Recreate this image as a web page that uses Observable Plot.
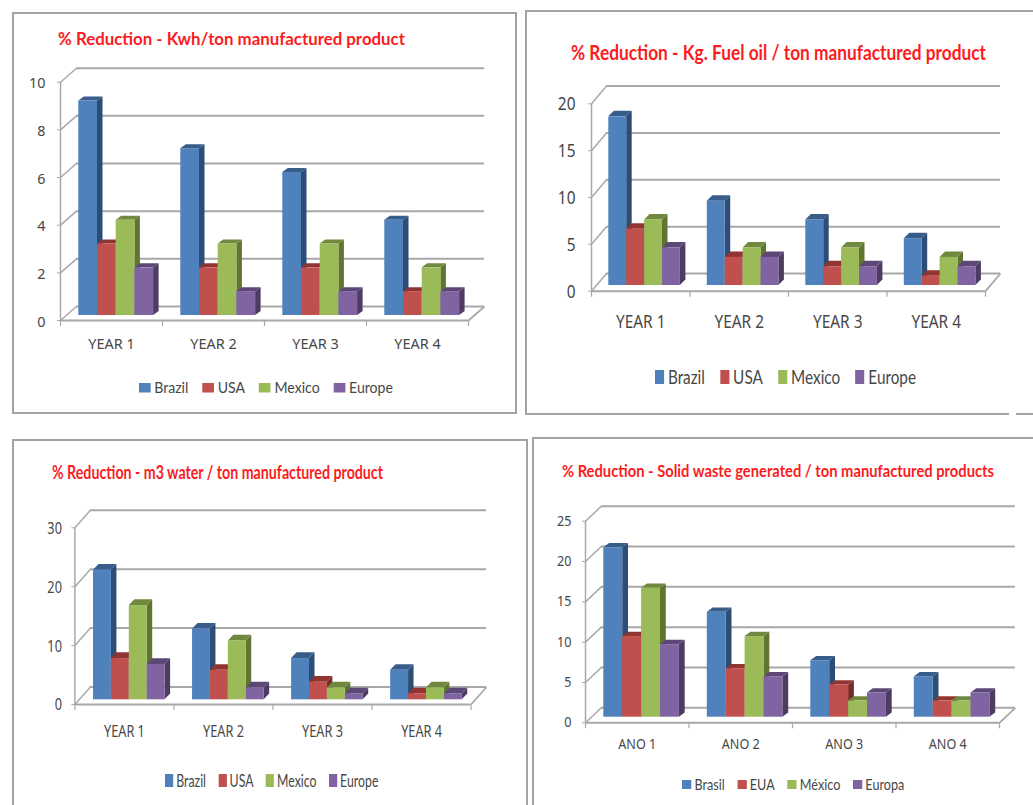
<!DOCTYPE html>
<html>
<head>
<meta charset="utf-8">
<script src="https://cdn.jsdelivr.net/npm/d3@7"></script>
<script src="https://cdn.jsdelivr.net/npm/@observablehq/plot@0.6"></script>
<style>
  html, body { margin: 0; background: #fff; }
  body { position: relative; width: 1033px; height: 805px; overflow: hidden; font-family: Lato, sans-serif; }
  .box { position: absolute; border: 2px solid #a3a3a3; box-sizing: border-box; }
  .chart { position: absolute; left: 0; top: 0; overflow: visible; }
  .title, .legend { position: absolute; white-space: nowrap; transform-origin: 0 50%; }
  .title { font-weight: 700; color: #fb1c22; line-height: 1; }
  .legend > div { flex-wrap: nowrap !important; margin: 0 !important; min-height: 0 !important; }
  .legend svg { margin-right: 0.25em !important; }
</style>
</head>
<body>
<script>
// Categories and series labels
const yearLabels = ["YEAR 1", "YEAR 2", "YEAR 3", "YEAR 4"];
const anoLabels = ["ANO 1", "ANO 2", "ANO 3", "ANO 4"];
const regionNames = ["Brazil", "USA", "Mexico", "Europe"];
const regiaoNames = ["Brasil", "EUA", "México", "Europa"];

// % reduction, Kwh per ton
const kwhBrazil = [9, 7, 6, 4];
const kwhUsa = [3, 2, 2, 1];
const kwhMexico = [4, 3, 3, 2];
const kwhEurope = [2, 1, 1, 1];

// % reduction, kg of fuel oil per ton
const fuelBrazil = [18, 9, 7, 5];
const fuelUsa = [6, 3, 2, 1];
const fuelMexico = [7, 4, 4, 3];
const fuelEurope = [4, 3, 2, 2];

// % reduction, m3 of water per ton
const waterBrazil = [22, 12, 7, 5];
const waterUsa = [7, 5, 3, 1];
const waterMexico = [16, 10, 2, 2];
const waterEurope = [6, 2, 1, 1];

// % reduction, solid waste per ton
const wasteBrasil = [21, 13, 7, 5];
const wasteEua = [10, 6, 4, 2];
const wasteMexico = [16, 10, 2, 2];
const wasteEuropa = [9, 5, 3, 3];

// Axis ticks
const kwhTicks = [0, 2, 4, 6, 8, 10];
const fuelTicks = [0, 5, 10, 15, 20];
const waterTicks = [0, 10, 20, 30];
const wasteTicks = [0, 5, 10, 15, 20, 25];

// Face colours per series: front, side, top
const frontColors = ["#4f81bd", "#c0504d", "#9bbb59", "#8064a2"];
const sideColors = ["#2c4d75", "#772c2a", "#5f7530", "#4d3b62"];
const topColors = ["#385d8a", "#923532", "#71893f", "#5c4776"];

const gridColor = "#a8a8a8";
const inkColor = "#474747";

// One chart per panel; every length below is in page pixels
const panels = [
  {
    title: "% Reduction - Kwh/ton manufactured product",
    groups: yearLabels, names: regionNames,
    series: [kwhBrazil, kwhUsa, kwhMexico, kwhEurope], ticks: kwhTicks,
    box: [12, 12, 517, 414],
    plot: { x0: 60, x1: 468, y0: 320, y1: 81.7 },
    wall: { dx: 16, dy: -14 },
    bar: { offset: 18.3, width: 18.7, lift: 5, dx: 5.5, dy: 4 },
    titleAt: { left: 57.5, cy: 39, width: 347, size: 16.5 },
    text: { size: 14.4, squeeze: 1, tickPad: 15, labelDy: 24, tickDy: 1.5 },
    legend: { left: 139, right: 393, cy: 387.5, size: 14.5, sw: 12, sh: 9.5 },
  },
  {
    title: "% Reduction - Kg. Fuel oil / ton manufactured product",
    groups: yearLabels, names: regionNames,
    series: [fuelBrazil, fuelUsa, fuelMexico, fuelEurope], ticks: fuelTicks,
    box: [525, 10, 1040, 414.5],
    plot: { x0: 591, x1: 985, y0: 290.7, y1: 103.3 },
    wall: { dx: 15, dy: -17.7 },
    bar: { offset: 17.3, width: 17.9, lift: 5.7, dx: 5.5, dy: 5.5 },
    titleAt: { left: 571, cy: 52, width: 415, size: 20 },
    text: { size: 17.5, squeeze: 0.88, tickPad: 16, labelDy: 31, tickDy: 1 },
    legend: { left: 655, right: 916, cy: 376.5, size: 18.5, sw: 11, sh: 14 },
  },
  {
    title: "% Reduction - m3 water / ton manufactured product",
    groups: yearLabels, names: regionNames,
    series: [waterBrazil, waterUsa, waterMexico, waterEurope], ticks: waterTicks,
    box: [12, 439, 528, 820],
    plot: { x0: 74.4, x1: 470.6, y0: 704, y1: 527.3 },
    wall: { dx: 15.5, dy: -17.5 },
    bar: { offset: 18.6, width: 17.9, lift: 4.7, dx: 5.5, dy: 5.7 },
    titleAt: { left: 52, cy: 471.5, width: 331, size: 18 },
    text: { size: 15.5, squeeze: 0.82, tickPad: 13, labelDy: 28, tickDy: 1 },
    legend: { left: 164.6, right: 378, cy: 780.5, size: 16.5, sw: 11, sh: 13 },
  },
  {
    title: "% Reduction - Solid waste generated / ton manufactured products",
    groups: anoLabels, names: regiaoNames,
    series: [wasteBrasil, wasteEua, wasteMexico, wasteEuropa], ticks: wasteTicks,
    box: [532, 437, 1040, 820],
    plot: { x0: 585, x1: 999, y0: 722.3, y1: 520.7 },
    wall: { dx: 15.8, dy: -15 },
    bar: { offset: 18.3, width: 18.9, lift: 5.6, dx: 5.8, dy: 4.3 },
    titleAt: { left: 562, cy: 470.5, width: 432, size: 17 },
    text: { size: 14, squeeze: 0.9, tickPad: 14, labelDy: 22, tickDy: 0 },
    legend: { left: 681.7, right: 904, cy: 784, size: 15, sw: 11, sh: 9 },
  }
];

// Per-series marks: side face, top face and front face of every column
function columnMarks(panel, ux, uy) {
  const { bar } = panel;
  const sideUnits = bar.dx / ux;
  const topUnits = bar.dy / uy;
  return panel.series.flatMap((values, s) => {
    const cols = values.map((value, g) => {
      const xl = g + (bar.offset + s * bar.width) / ux;
      return { id: g, value, xl, xr: xl + bar.width / ux };
    });
    const sideRows = cols.flatMap((c) => [
      { id: c.id, x: c.xr, low: 0, high: c.value },
      { id: c.id, x: c.xr + sideUnits, low: topUnits, high: c.value + topUnits }
    ]);
    const topRows = cols.flatMap((c) => [
      { id: c.id, y: c.value, a: c.xl, b: c.xr },
      { id: c.id, y: c.value + topUnits, a: c.xl + sideUnits, b: c.xr + sideUnits }
    ]);
    return [
      Plot.area(sideRows, { x1: "x", y1: "low", y2: "high", z: "id", fill: sideColors[s], dy: -bar.lift }),
      Plot.area(topRows, { x1: "a", x2: "b", y1: "y", z: "id", fill: topColors[s], dy: -bar.lift }),
      Plot.rect(cols, { x1: "xl", x2: "xr", y1: () => 0, y2: "value", fill: frontColors[s], dy: -bar.lift })
    ];
  });
}

function drawPanel(panel) {
  const [left, top, right, bottom] = panel.box;
  const { plot: p, wall, text } = panel;
  const ticks = panel.ticks;
  const maxTick = d3.max(ticks);
  const groupCount = panel.groups.length;
  const ux = (p.x1 - p.x0) / groupCount;
  const uy = (p.y0 - p.y1) / maxTick;
  const wallX = wall.dx / ux;
  const wallY = -wall.dy / uy;

  const frame = document.createElement("div");
  frame.className = "box";
  Object.assign(frame.style, {
    left: left + "px", top: top + "px",
    width: right - left + "px", height: bottom - top + "px"
  });
  document.body.append(frame);

  const line = { stroke: gridColor, strokeWidth: 2 };
  const svg = Plot.plot({
    width: right - left,
    height: bottom - top,
    marginLeft: p.x0 - left,
    marginRight: right - p.x1,
    marginTop: p.y1 - top,
    marginBottom: bottom - p.y0,
    className: "chart",
    style: { background: "none", overflow: "visible" },
    x: { domain: [0, groupCount] },
    y: { domain: [0, maxTick] },
    marks: [
      // Back wall grid, side wall and floor edges
      Plot.ruleY(ticks, { x1: 0, x2: groupCount, dx: wall.dx, dy: wall.dy, ...line }),
      Plot.link(ticks, { x1: 0, y1: (d) => d, x2: wallX, y2: (d) => d + wallY, stroke: gridColor, strokeWidth: 1.5 }),
      Plot.link([0], { x1: groupCount, y1: 0, x2: groupCount + wallX, y2: wallY, stroke: gridColor, strokeWidth: 1.8 }),
      Plot.ruleX([0], { y1: 0, y2: maxTick, stroke: gridColor, strokeWidth: 1.5 }),
      Plot.ruleY([0], { x1: 0, x2: groupCount, ...line }),
      // Tick marks, value labels and category labels
      Plot.axisY({
        ticks, anchor: "left", tickSize: 3, text: null, stroke: gridColor, label: null
      }),
      Plot.axisY({
        ticks, anchor: "left", tickSize: 0, tickPadding: text.tickPad, dy: text.tickDy,
        fill: inkColor, fontSize: text.size, label: null
      }),
      Plot.axisX({
        ticks: d3.range(groupCount + 1), anchor: "bottom", tickSize: 6,
        text: null, stroke: gridColor, strokeWidth: 1.2, label: null
      }),
      Plot.text(panel.groups, {
        x: (d, i) => i + 0.5, y: () => 0, dy: text.labelDy,
        fill: inkColor, fontSize: text.size
      }),
      ...columnMarks(panel, ux, uy)
    ]
  });
  svg.style.left = left + "px";
  svg.style.top = top + "px";
  svg.style.position = "absolute";
  document.body.append(svg);

  // Narrow the labels to the condensed widths of this chart
  svg.querySelectorAll("text").forEach((t) => {
    t.setAttribute("lengthAdjust", "spacingAndGlyphs");
    t.setAttribute("textLength", t.getComputedTextLength() * text.squeeze);
  });

  // Heading, fitted to its column
  const heading = document.createElement("div");
  heading.className = "title";
  heading.textContent = panel.title;
  heading.style.fontSize = panel.titleAt.size + "px";
  heading.style.left = panel.titleAt.left + "px";
  document.body.append(heading);
  const headingBox = heading.getBoundingClientRect();
  heading.style.top = panel.titleAt.cy - headingBox.height / 2 + "px";
  heading.style.transform = `scaleX(${panel.titleAt.width / headingBox.width})`;

  // Swatch legend below the chart, fitted between its two ends
  const { legend } = panel;
  const holder = document.createElement("div");
  holder.className = "legend";
  holder.style.left = legend.left + "px";
  holder.append(Plot.legend({
    color: { type: "ordinal", domain: panel.names, range: frontColors },
    legend: "swatches",
    swatchWidth: legend.sw,
    swatchHeight: legend.sh,
    style: { fontFamily: "Lato, sans-serif", fontSize: legend.size + "px", color: inkColor, marginRight: 0 }
  }));
  document.body.append(holder);
  const entries = [...holder.firstChild.children].filter((e) => e.tagName === "SPAN");
  const entryLeft = entries[0].getBoundingClientRect().left;
  const entryRight = entries[entries.length - 1].getBoundingClientRect().right;
  const holderBox = holder.getBoundingClientRect();
  holder.style.top = legend.cy - holderBox.height / 2 + "px";
  holder.style.transform = `scaleX(${(legend.right - legend.left) / (entryRight - entryLeft)})`;
}

panels.forEach(drawPanel);

// The bottom rule of the upper right frame is broken near the page edge
const breakInRule = document.createElement("div");
Object.assign(breakInRule.style, { position: "absolute", left: "1009px", top: "411px", width: "7px", height: "5px", background: "#fff" });
document.body.append(breakInRule);
</script>
</body>
</html>
